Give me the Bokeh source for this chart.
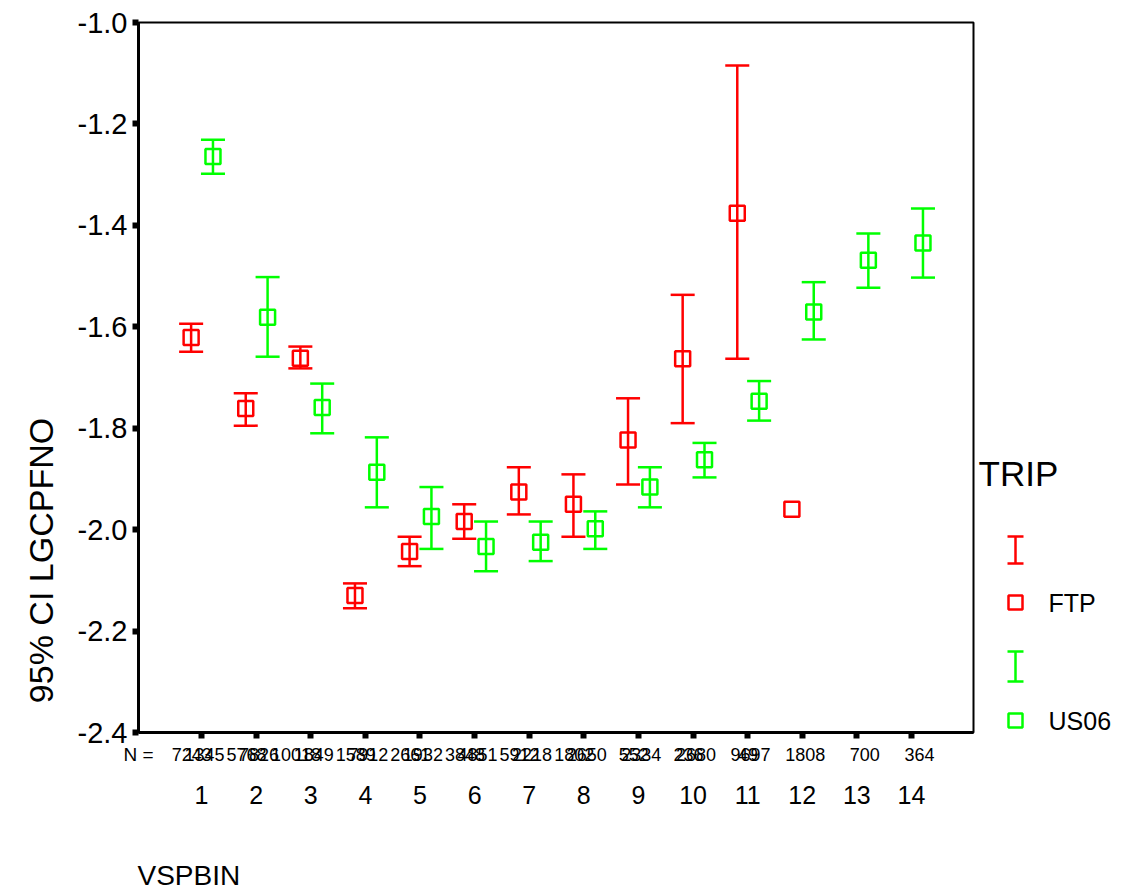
import math
from bokeh.plotting import figure
from bokeh.models import Range1d, ColumnDataSource, FixedTicker, NumeralTickFormatter
from bokeh.embed import file_html
from bokeh.resources import INLINE
from bokeh.core.properties import value

# ---------------- data ----------------
categories = list(range(1, 15))
x_tick_labels = [str(c) for c in categories]
y_ticks = [-2.4, -2.2, -2.0, -1.8, -1.6, -1.4, -1.2, -1.0]

ftp_bins = [1, 2, 3, 4, 5, 6, 7, 8, 9, 10, 11, 12]
ftp_mean = [-1.621, -1.761, -1.662, -2.130, -2.043, -1.984, -1.926, -1.950, -1.823, -1.663, -1.376, -1.960]
ftp_lower = [-1.649, -1.795, -1.682, -2.155, -2.072, -2.018, -1.970, -2.014, -1.911, -1.790, -1.663, float("nan")]
ftp_upper = [-1.594, -1.731, -1.639, -2.106, -2.014, -1.950, -1.877, -1.891, -1.741, -1.537, -1.085, float("nan")]
ftp_n = ["7243", "5768", "10018", "1589", "2661", "3848", "5912", "1802", "552", "236", "49"]

us06_bins = [1, 2, 3, 4, 5, 6, 7, 8, 9, 10, 11, 12, 13, 14]
us06_mean = [-1.264, -1.581, -1.759, -1.887, -1.974, -2.033, -2.025, -1.998, -1.916, -1.862, -1.747, -1.571, -1.469, -1.435]
us06_lower = [-1.298, -1.659, -1.810, -1.956, -2.038, -2.082, -2.062, -2.038, -1.956, -1.897, -1.785, -1.625, -1.523, -1.503]
us06_upper = [-1.231, -1.502, -1.712, -1.818, -1.916, -1.984, -1.984, -1.964, -1.877, -1.829, -1.707, -1.512, -1.416, -1.367]
us06_n = ["1345", "7826", "1849", "7912", "1932", "4851", "2218", "2650", "2334", "2680", "9697", "1808", "700", "364"]

series_names = ["FTP", "US06"]
legend_title = "TRIP"
x_title = "VSPBIN"
y_title = "95% CI LGCPFNO"
n_prefix = "N ="

# ---------------- styling / layout ----------------
RED = "#ff0000"
GREEN = "#00ff00"
FONT = "Liberation Sans"
W, H = 1121, 894
BOX_L, BOX_R, BOX_T, BOX_B = 138, 973, 22, 732
Y_MIN, Y_MAX = -2.4, -1.0
OFF_FTP, OFF_US = -0.19, 0.21
N_RIGHT_FTP, N_RIGHT_US = 0.19, 0.42
CAP = 0.22


# pixel -> data calibration: category 1 at px 201, 14 at px 911; y -1.0 at 22, -2.4 at 732
def x_at(px):
    return 1 + (px - 201) * 13 / 710


def y_at(py):
    return Y_MAX - (py - BOX_T) * (Y_MAX - Y_MIN) / (BOX_B - BOX_T)


p = figure(width=W, height=H, x_range=Range1d(x_at(0), x_at(W)), y_range=Range1d(y_at(H), y_at(0)),
           output_backend="svg", toolbar_location=None, title=None, min_border=0)
p.grid.visible = False
p.outline_line_color = None
p.background_fill_color = "white"
p.border_fill_color = "white"

# plot box (top/right edges)
p.quad(left=[x_at(BOX_L)], right=[x_at(BOX_R)], bottom=[Y_MIN], top=[Y_MAX],
       fill_color=None, line_color="black", line_width=2)

# axes fixed at the plot box
p.yaxis.fixed_location = x_at(BOX_L)
p.yaxis.bounds = (Y_MIN, Y_MAX)
p.yaxis.ticker = FixedTicker(ticks=y_ticks)
p.yaxis.formatter = NumeralTickFormatter(format="0.0")
p.xaxis.fixed_location = Y_MIN
p.xaxis.bounds = (x_at(BOX_L), x_at(BOX_R))
p.xaxis.ticker = FixedTicker(ticks=categories)
p.xaxis.major_label_overrides = {c: l for c, l in zip(categories, x_tick_labels)}
for ax in (p.xaxis, p.yaxis):
    ax.axis_line_width = 3
    ax.axis_line_color = "black"
    ax.major_tick_in = 0
    ax.major_tick_out = 6
    ax.major_tick_line_width = 6
    ax.major_tick_line_cap = "butt"
    ax.minor_tick_line_color = None
    ax.major_label_text_font = FONT
    ax.major_label_text_color = "black"
p.yaxis.major_label_text_font_size = "29px"
p.yaxis.major_label_standoff = 5
p.xaxis.major_label_text_font_size = "25px"
p.xaxis.major_label_standoff = 47


def draw_series(bins, mean, lower, upper, off, color):
    xs = [b + off for b in bins]
    src = ColumnDataSource(dict(
        x=xs, xl=[x - CAP for x in xs], xr=[x + CAP for x in xs],
        mean=mean, lo=lower, hi=upper))
    p.segment(x0="x", y0="lo", x1="x", y1="hi", source=src, line_color=color, line_width=2.5)
    p.segment(x0="xl", y0="hi", x1="xr", y1="hi", source=src, line_color=color, line_width=2.5)
    p.segment(x0="xl", y0="lo", x1="xr", y1="lo", source=src, line_color=color, line_width=2.5)
    p.scatter(x="x", y="mean", source=src, marker="square", size=15,
              fill_color=None, line_color=color, line_width=2.5)
    return xs


draw_series(ftp_bins, ftp_mean, ftp_lower, ftp_upper, OFF_FTP, RED)
draw_series(us06_bins, us06_mean, us06_lower, us06_upper, OFF_US, GREEN)

# N labels (right-aligned under each bar group)
n_x = [b + N_RIGHT_FTP for b in ftp_bins[:len(ftp_n)]] + [b + N_RIGHT_US for b in us06_bins]
n_src = ColumnDataSource(dict(x=n_x, y=[y_at(754)] * len(n_x), t=ftp_n + us06_n))
p.text(x="x", y="y", text="t", source=n_src, text_align="right", text_baseline="middle",
       text_font=value(FONT), text_font_size="18px", text_color="black")
p.text(x=[x_at(123)], y=[y_at(754)], text=[n_prefix], text_align="left", text_baseline="middle",
       text_font=value(FONT), text_font_size="19px", text_color="black")

# axis titles
p.text(x=[x_at(40)], y=[y_at(560)], text=[y_title], angle=math.pi / 2, text_align="center",
       text_baseline="middle", text_font=value(FONT), text_font_size="34px", text_color="black")
p.text(x=[x_at(137)], y=[y_at(875)], text=[x_title], text_align="left", text_baseline="middle",
       text_font=value(FONT), text_font_size="28px", text_color="black")

# ---------------- legend ----------------
p.text(x=[x_at(978)], y=[y_at(473)], text=[legend_title], text_font=value(FONT),
       text_font_size="35px", text_baseline="middle", text_align="left", text_color="black")
for color, y_top, y_bot, y_sq, name in [(RED, 536, 563, 602, series_names[0]),
                                        (GREEN, 651, 681, 720, series_names[1])]:
    cx, l, r = x_at(1015), x_at(1007), x_at(1023)
    p.segment(x0=[cx, l, l], y0=[y_at(y_top), y_at(y_top), y_at(y_bot)],
              x1=[cx, r, r], y1=[y_at(y_bot), y_at(y_top), y_at(y_bot)],
              line_color=color, line_width=2.5)
    p.scatter(x=[cx], y=[y_at(y_sq)], marker="square", size=14, fill_color=None,
              line_color=color, line_width=2.5)
    p.text(x=[x_at(1048)], y=[y_at(y_sq)], text=[name], text_font=value(FONT), text_font_size="25px",
           text_baseline="middle", text_align="left", text_color="black")

open("out.html", "w").write(file_html(p, INLINE))
